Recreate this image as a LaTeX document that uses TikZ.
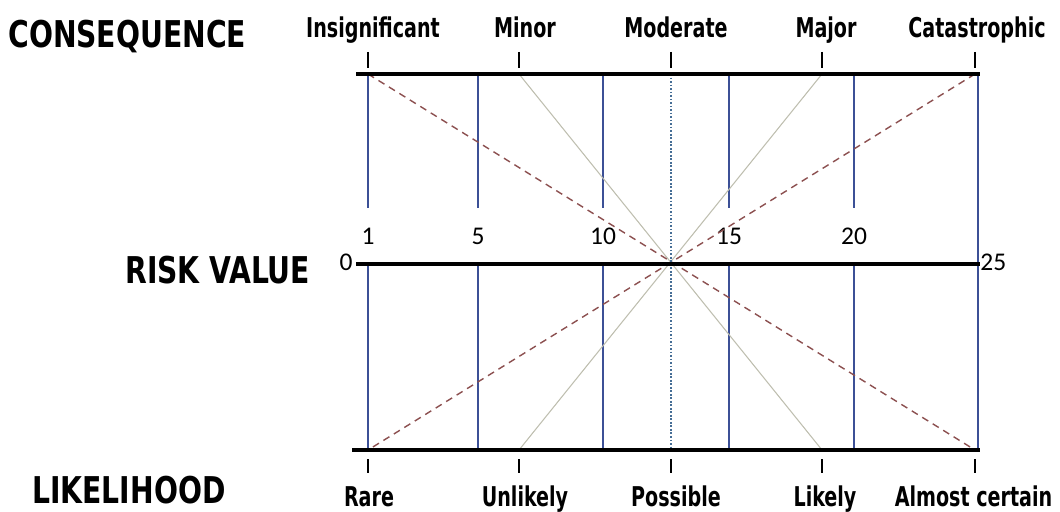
\documentclass[tikz,border=0pt]{standalone}
\usepackage{fontspec}
\setmainfont{Carlito}
\newfontfamily\headfont{DejaVu Sans Condensed}
\usetikzlibrary{positioning}

\definecolor{bandblue}{RGB}{60,80,150}
\definecolor{crossbrown}{RGB}{140,80,80}
\definecolor{fangray}{RGB}{190,190,175}
\definecolor{midblue}{RGB}{70,110,150}

\newcommand{\squeeze}[2]{\scalebox{#1}[1]{#2}}

\begin{document}
\begin{tikzpicture}[
    bar/.style={line width=2.3pt, line cap=rect},
    notch/.style={line width=1.3pt},
    band/.style={draw=bandblue, line width=0.6pt},
    cross/.style={draw=crossbrown, dash pattern=on 4pt off 3pt, line width=0.8pt},
    fan/.style={draw=fangray, line width=0.6pt},
    centre/.style={draw=midblue, dash pattern=on 1pt off 1pt, line width=0.6pt},
    heading/.style={font=\headfont\bfseries\fontsize{21}{21}\selectfont, inner sep=0pt, anchor=base west},
    level/.style={font=\headfont\bfseries\fontsize{15.5}{15.5}\selectfont, inner sep=0pt, anchor=base},
    score/.style={font=\fontsize{14.5}{14.5}\selectfont, inner sep=0pt, anchor=base}]
    \useasboundingbox (0,0) rectangle (21.2,-10.22);

    % headings
    \node[heading] (consequence) at (0.16,-0.96) {\squeeze{0.85}{CONSEQUENCE}};
    \node[heading] (riskvalue) at (2.5,-5.66) {\squeeze{0.85}{RISK VALUE}};
    \node[heading] (likelihood) at (0.64,-10.06) {\squeeze{0.85}{LIKELIHOOD}};

    % the three bars
    \coordinate (topL) at (7.16,-1.48);
    \coordinate (topR) at (19.56,-1.48);
    \coordinate (midL) at (7.16,-5.28);
    \coordinate (midR) at (19.56,-5.28);
    \coordinate (botL) at (7.08,-9.0);
    \coordinate (botR) at (19.56,-9.0);

    % risk value scale
    \foreach \v/\x in {1/7.36, 5/9.56, 10/12.06, 15/14.58, 20/17.08} {
        \node[score] (n\v) at (\x,-4.88) {\v};
        \coordinate (up\v) at (\x,-1.48);
        \coordinate (gap\v) at (\x,-4.16);
        \coordinate (rv\v) at (\x,-5.28);
        \coordinate (dn\v) at (\x,-9.0);
        \draw[band] (up\v) -- (gap\v);
        \draw[band] (rv\v) -- (dn\v);
    }
    \node[score, anchor=base east] (n0) at (7.06,-5.4) {0};
    \node[score, anchor=base west] (n25) at (19.6,-5.4) {25};
    \draw[band] (topR) -- (botR);

    % consequence and likelihood levels
    \foreach \i/\x/\tx/\bx/\top/\bot in {
        1/7.36/7.46/7.38/Insignificant/Rare,
        2/10.38/10.5/10.5/Minor/Unlikely,
        3/13.42/13.52/13.52/Moderate/Possible,
        4/16.44/16.52/16.5/Major/Likely,
        5/19.5/19.54/19.47/Catastrophic/Almost certain} {
        \coordinate (c\i) at (\x,-1.48);
        \coordinate (l\i) at (\x,-9.0);
        \draw[notch] (\x,-1.04) -- (\x,-1.36);
        \draw[notch] (\x,-9.18) -- (\x,-9.46);
        \node[level] (cl\i) at (\tx,-0.76) {\squeeze{0.78}{\top}};
        \node[level] (ll\i) at (\bx,-10.12) {\squeeze{0.78}{\bot}};
    }

    % crossing lines
    \draw[cross] (c1) -- (l5);
    \draw[cross] (c5) -- (l1);
    \draw[fan] (c2) -- (l4);
    \draw[fan] (c4) -- (l2);
    \draw[centre] (c3) -- (l3);

    \draw[bar] (topL) -- (topR);
    \draw[bar] (midL) -- (midR);
    \draw[bar] (botL) -- (botR);
\end{tikzpicture}
\end{document}
